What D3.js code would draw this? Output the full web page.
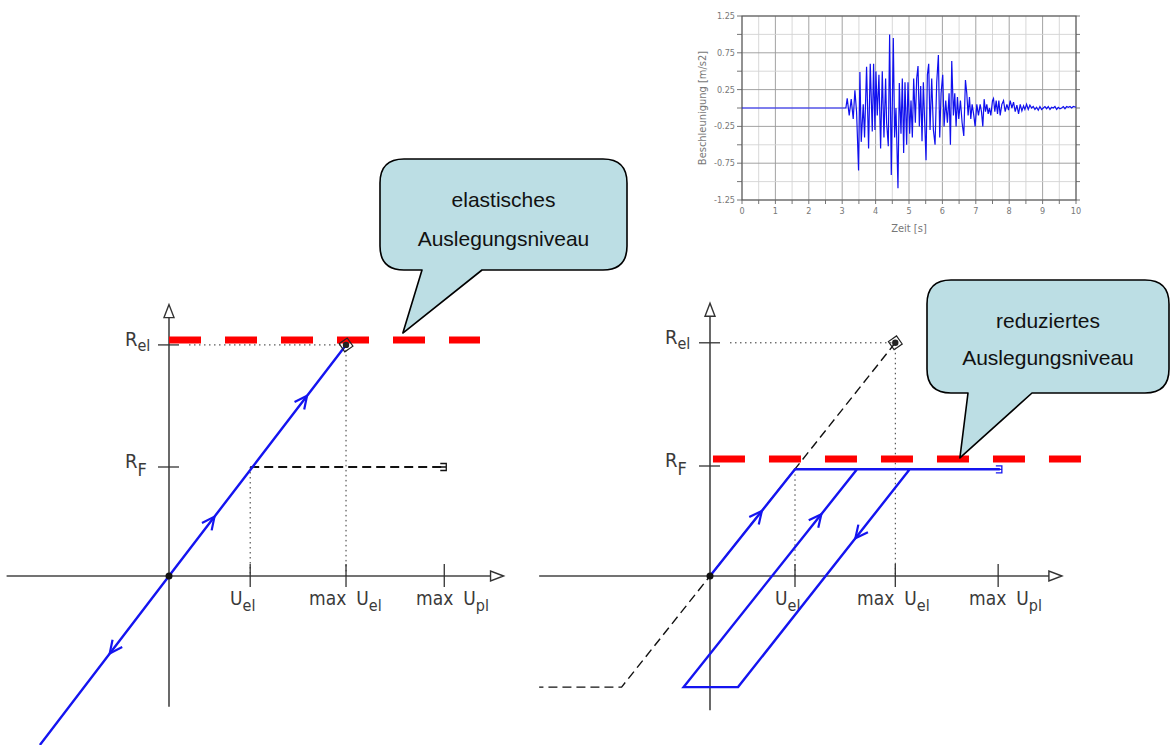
<!DOCTYPE html>
<html lang="de">
<head>
<meta charset="utf-8">
<title>Auslegungsniveau</title>
<style>
    body { margin: 0; background: #fff; }
    .cad { font-family: "DejaVu Sans Condensed", "DejaVu Sans", sans-serif; font-weight: 200; fill: #3a3a3a; }
    .bubble { font-family: "Liberation Sans", Arial, sans-serif; font-size: 21px; fill: #111; text-anchor: middle; }
    .acc { font-family: "DejaVu Sans Condensed", "DejaVu Sans", sans-serif; fill: #777; }
</style>
<script src="https://cdn.jsdelivr.net/npm/d3@7"></script>
</head>
<body>
<div id="chart"></div>
<script>
// tick positions (normalised units: U_el = 1, R_F = 1)
var uTicks = [1, 2.18, 3.39];
var uTickPre = ["", "max", "max"];
var uTickSub = ["el", "el", "pl"];
var rTicks = [1, 2.12];
var rTickSub = ["F", "el"];

// left diagram: purely elastic response
var leftElastic = [[-1.59, -1.55], [0, 0], [2.18, 2.12]];
var leftYield = [[1, 1], [3.39, 1]];
var leftArrows = [[0.56, 1], [1.70, 1], [-0.73, -1]];   // u, direction
var leftRed = { r: 2.165, from: 0, to: 3.83 };

// right diagram: elasto-plastic hysteresis
var rightLoop = [[0, 0], [1, 0.97], [2.35, 0.97], [0.33, -1.01], [-0.31, -1.01], [1.73, 0.97], [3.41, 0.97]];
var rightElastic = [[2.18, 2.12], [0, 0], [-1.04, -1.01], [-2.01, -1.01]];
var rightArrows = [[0, 0.61, 1], [4, 1.31, 1], [2, 1.71, -1]];  // segment, u, direction
var rightRed = { r: 1.064, from: 0.035, to: 4.38 };

// accelerogram
var accelTime = [0, 3.11, 3.15, 3.21, 3.27, 3.33, 3.38, 3.43, 3.49, 3.53, 3.57, 3.63, 3.67, 3.73, 3.79, 3.84, 3.90, 3.94, 3.98,
    4.01, 4.05, 4.10, 4.15, 4.20, 4.25, 4.30, 4.33, 4.38, 4.42, 4.47, 4.53, 4.57, 4.61, 4.67, 4.71, 4.76, 4.80, 4.84, 4.88, 4.93, 4.97,
    5.02, 5.06, 5.10, 5.14, 5.19, 5.23, 5.27, 5.31, 5.35, 5.39, 5.43, 5.47, 5.51, 5.55, 5.59, 5.63, 5.68, 5.73, 5.78, 5.83, 5.88, 5.92, 5.96,
    6.01, 6.05, 6.10, 6.15, 6.20, 6.24, 6.28, 6.33, 6.37, 6.41, 6.45, 6.49, 6.54, 6.59, 6.64, 6.69, 6.73, 6.77, 6.81, 6.85, 6.89, 6.94, 6.98,
    7.03, 7.08, 7.13, 7.17, 7.21, 7.25, 7.29, 7.33, 7.37, 7.41, 7.45, 7.50, 7.53, 7.57, 7.61, 7.65, 7.69, 7.73, 7.78, 7.83, 7.88, 7.93, 7.98,
    8.03, 8.08, 8.13, 8.18, 8.23, 8.28, 8.33, 8.38, 8.43, 8.47, 8.52, 8.57, 8.62, 8.67, 8.72, 8.77, 8.82, 8.87, 8.92, 8.97,
    9.02, 9.07, 9.12, 9.17, 9.22, 9.27, 9.32, 9.37, 9.42, 9.47, 9.52, 9.57, 9.62, 9.67, 9.72, 9.77, 9.82, 9.87, 9.92, 10];
var accelValue = [0, 0, 0.13, -0.1, 0.12, -0.15, 0.24, -0.05, -0.85, 0.49, -0.46, 0.05, -0.4, 0.56, -0.55, 0.6, -0.32, 0.6, -0.3,
    0.5, -0.1, 0.45, -0.55, 0.5, -0.4, 0.4, -0.2, -0.52, 1.0, -0.91, 0.95, -0.4, 0.0, -1.09, 0.34, -0.35, 0.4, -0.61, 0.35, -0.5, 0.35,
    -0.35, 0.1, -0.4, 0.4, -0.2, 0.4, 0.57, -0.25, 0.3, -0.45, 0.35, -0.2, -0.71, 0.45, 0.6, -0.3, 0.4, -0.3, -0.5, 0.35, 0.72, -0.4, 0.2,
    0.45, -0.25, 0.1, -0.2, 0.2, -0.5, 0.64, -0.1, 0.2, -0.25, 0.15, -0.15, 0.1, -0.2, -0.38, 0.38, 0.2, -0.1, 0.15, -0.15, 0.05, -0.1, -0.25,
    0.05, -0.1, 0.05, -0.05, -0.25, 0.12, -0.05, 0.05, -0.08, 0.0, -0.1, 0.1, 0.13, -0.05, 0.1, -0.08, 0.1, -0.1, 0.05, 0.1, -0.05, 0.05, -0.03,
    0.1, 0.0, 0.08, -0.05, 0.04, -0.08, 0.05, -0.04, 0.03, -0.02, 0.05, -0.02, 0.04, 0.0, 0.02, -0.02, 0.01, -0.03, 0.02, -0.02,
    0.0, 0.02, -0.01, 0.02, -0.02, 0.01, 0.0, 0.02, -0.02, 0.01, -0.01, 0.0, 0.02, -0.01, 0.02, 0.01, 0.02, 0.0, 0.02, 0.01];
var accelYTicks = [1.25, 0.75, 0.25, -0.25, -0.75, -1.25];
var accelXTicks = [0, 1, 2, 3, 4, 5, 6, 7, 8, 9, 10];

var svg = d3.select("#chart").append("svg")
    .attr("width", 1171)
    .attr("height", 745);

var blue = "#1414f0";

// ---------- helpers ----------
function label(g, x, y, pre, main, sub, size, subSize, subDy) {
    var t = g.append("text").attr("class", "cad").attr("x", x).attr("y", y)
        .style("font-size", size + "px");
    if (pre) {
        t.append("tspan").text(pre);
        t.append("tspan").attr("dx", 10).text(main);
    } else {
        t.append("tspan").text(main);
    }
    t.append("tspan").attr("dy", subDy).style("font-size", subSize + "px").text(sub);
}

function chevron(g, x0, y0, x1, y1, t, dir, color) {
    // open arrow head on segment (x0,y0)-(x1,y1) at fraction t
    var px = x0 + (x1 - x0) * t, py = y0 + (y1 - y0) * t;
    var a = Math.atan2(y1 - y0, x1 - x0) + (dir < 0 ? Math.PI : 0);
    var len = 14, sp = 0.45;
    var p = d3.path();
    p.moveTo(px - len * Math.cos(a - sp), py - len * Math.sin(a - sp));
    p.lineTo(px, py);
    p.lineTo(px - len * Math.cos(a + sp), py - len * Math.sin(a + sp));
    g.append("path").attr("d", p.toString()).attr("fill", "none")
        .attr("stroke", color).attr("stroke-width", 2.2).attr("stroke-linejoin", "miter");
}

function drawDiagram(x, y, opt) {
    var g = svg.append("g");
    var line = d3.line().x(function(d) { return x(d[0]); }).y(function(d) { return y(d[1]); });

    // dotted guides
    var dot = "1.5,3.5";
    g.append("line").attr("x1", x(0) + 20).attr("x2", x(uTicks[1])).attr("y1", y(rTicks[1])).attr("y2", y(rTicks[1]))
        .attr("stroke", "#333").attr("stroke-width", 1).attr("stroke-dasharray", dot);
    g.append("line").attr("x1", x(uTicks[1])).attr("x2", x(uTicks[1])).attr("y1", y(rTicks[1])).attr("y2", y(0))
        .attr("stroke", "#333").attr("stroke-width", 1).attr("stroke-dasharray", dot);
    g.append("line").attr("x1", x(uTicks[0])).attr("x2", x(uTicks[0])).attr("y1", y(opt.uelTop)).attr("y2", y(0))
        .attr("stroke", "#333").attr("stroke-width", 1).attr("stroke-dasharray", dot);

    // axes
    g.append("line").attr("x1", x(opt.xExt[0])).attr("x2", x(opt.xExt[1]) - 12).attr("y1", y(0)).attr("y2", y(0))
        .attr("stroke", "#444").attr("stroke-width", 1.6);
    g.append("line").attr("x1", x(0)).attr("x2", x(0)).attr("y1", y(opt.yExt[0])).attr("y2", y(opt.yExt[1]) + 12)
        .attr("stroke", "#444").attr("stroke-width", 1.6);
    var ax = x(opt.xExt[1]), ay = y(0);
    g.append("path").attr("d", "M" + ax + "," + ay + "L" + (ax - 13) + "," + (ay - 5) + "L" + (ax - 13) + "," + (ay + 5) + "Z")
        .attr("fill", "#fff").attr("stroke", "#333").attr("stroke-width", 1.4);
    var bx = x(0), by = y(opt.yExt[1]);
    g.append("path").attr("d", "M" + bx + "," + by + "L" + (bx - 5) + "," + (by + 13) + "L" + (bx + 5) + "," + (by + 13) + "Z")
        .attr("fill", "#fff").attr("stroke", "#333").attr("stroke-width", 1.4);

    // ticks
    uTicks.forEach(function(u) {
        g.append("line").attr("x1", x(u)).attr("x2", x(u)).attr("y1", y(0) - 12).attr("y2", y(0) + 11)
            .attr("stroke", "#333").attr("stroke-width", 1.3);
    });
    rTicks.forEach(function(r) {
        g.append("line").attr("x1", x(0) - 11).attr("x2", x(0) + 10).attr("y1", y(r)).attr("y2", y(r))
            .attr("stroke", "#333").attr("stroke-width", 1.3);
    });

    // tick labels
    uTicks.forEach(function(u, i) {
        label(g, opt.uLabelX[i], y(0) + 29, uTickPre[i], "U", uTickSub[i], 19, 16, 6);
    });
    label(g, opt.rLabelX, y(rTicks[1]) + 1, "", "R", rTickSub[1], 20, 16, 5);
    label(g, opt.rLabelX, y(rTicks[0]) + 1, "", "R", rTickSub[0], 20, 18, 8);

    // red design level
    g.append("line").attr("x1", x(opt.red.from)).attr("x2", x(opt.red.to)).attr("y1", y(opt.red.r)).attr("y2", y(opt.red.r))
        .attr("stroke", "#ff0000").attr("stroke-width", 7).attr("stroke-dasharray", "32,24");

    return { g: g, line: line };
}

function endMark(g, cx, cy, color) {
    g.append("path").attr("d", "M" + (cx - 4) + "," + (cy - 3.5) + "h6v7h-6M" + (cx - 4) + "," + cy + "h6")
        .attr("fill", "none").attr("stroke", color).attr("stroke-width", 1.3);
}

function peakMark(g, cx, cy) {
    g.append("path").attr("d", "M" + cx + "," + (cy - 7) + "L" + (cx + 7) + "," + cy + "L" + cx + "," + (cy + 7) + "L" + (cx - 7) + "," + cy + "Z")
        .attr("fill", "none").attr("stroke", "#222").attr("stroke-width", 1.2)
        .attr("transform", "rotate(10," + cx + "," + cy + ")");
    g.append("circle").attr("cx", cx).attr("cy", cy).attr("r", 3.2).attr("fill", "#222");
}

function callout(x0, y0, x1, y1, r, tail0, tail1, tip, lines, textY) {
    var p = d3.path();
    p.moveTo(x0 + r, y0);
    p.lineTo(x1 - r, y0);
    p.quadraticCurveTo(x1, y0, x1, y0 + r);
    p.lineTo(x1, y1 - r);
    p.quadraticCurveTo(x1, y1, x1 - r, y1);
    p.lineTo(tail1, y1);
    p.lineTo(tip[0], tip[1]);
    p.lineTo(tail0, y1);
    p.lineTo(x0 + r, y1);
    p.quadraticCurveTo(x0, y1, x0, y1 - r);
    p.lineTo(x0, y0 + r);
    p.quadraticCurveTo(x0, y0, x0 + r, y0);
    p.closePath();
    svg.append("path").attr("d", p.toString()).attr("fill", "#bcdee4")
        .attr("stroke", "#000").attr("stroke-width", 1.6).attr("stroke-linejoin", "round");
    lines.forEach(function(s, i) {
        svg.append("text").attr("class", "bubble").attr("x", (x0 + x1) / 2).attr("y", textY[i]).text(s);
    });
}

// ---------- left diagram ----------
var xL = d3.scaleLinear().domain([0, 1]).range([169, 250.2]);
var yL = d3.scaleLinear().domain([0, 1]).range([576, 467]);
var L = drawDiagram(xL, yL, {
    xExt: [-2.0, 4.12], yExt: [-1.2, 2.49], uelTop: 1,
    uLabelX: [230, 309, 416], rLabelX: 125, red: leftRed
});
L.g.append("path").datum(leftYield).attr("d", L.line).attr("fill", "none")
    .attr("stroke", "#111").attr("stroke-width", 1.8).attr("stroke-dasharray", "9,5");
endMark(L.g, xL(leftYield[1][0]), yL(leftYield[1][1]), "#111");
L.g.append("path").datum(leftElastic).attr("d", L.line).attr("fill", "none")
    .attr("stroke", blue).attr("stroke-width", 2.4);
var slopeL = leftElastic[2][1] / leftElastic[2][0];
leftArrows.forEach(function(a) {
    var u = a[0];
    chevron(L.g, xL(u - 0.1), yL((u - 0.1) * slopeL), xL(u + 0.1), yL((u + 0.1) * slopeL), 0.5, a[1], blue);
});
peakMark(L.g, xL(leftElastic[2][0]), yL(leftElastic[2][1]));
L.g.append("circle").attr("cx", xL(0)).attr("cy", yL(0)).attr("r", 3.5).attr("fill", "#111");

// ---------- right diagram ----------
var xR = d3.scaleLinear().domain([0, 1]).range([710, 795]);
var yR = d3.scaleLinear().domain([0, 1]).range([576, 466]);
var R = drawDiagram(xR, yR, {
    xExt: [-2.01, 4.14], yExt: [-1.22, 2.48], uelTop: 0.97,
    uLabelX: [775, 857, 969], rLabelX: 665, red: rightRed
});
R.g.append("path").datum(rightElastic).attr("d", R.line).attr("fill", "none")
    .attr("stroke", "#111").attr("stroke-width", 1.4).attr("stroke-dasharray", "9,5");
peakMark(R.g, xR(rightElastic[0][0]), yR(rightElastic[0][1]));
R.g.append("path").datum(rightLoop).attr("d", R.line).attr("fill", "none")
    .attr("stroke", blue).attr("stroke-width", 2.4).attr("stroke-linejoin", "miter");
endMark(R.g, xR(rightLoop[6][0]), yR(rightLoop[6][1]), blue);
rightArrows.forEach(function(a) {
    var p0 = rightLoop[a[0]], p1 = rightLoop[a[0] + 1];
    var t = (a[1] - p0[0]) / (p1[0] - p0[0]);
    chevron(R.g, xR(p0[0]), yR(p0[1]), xR(p1[0]), yR(p1[1]), t, a[2] * (p1[0] > p0[0] ? 1 : -1), blue);
});
R.g.append("circle").attr("cx", xR(0)).attr("cy", yR(0)).attr("r", 3.5).attr("fill", "#111");

// ---------- callouts ----------
callout(380, 159, 627, 270, 24, 422, 482, [xL(2.88), yL(leftRed.r) - 7],
    ["elastisches", "Auslegungsniveau"], [207, 246]);
callout(927, 280, 1169, 393, 24, 968, 1032, [xR(2.94), yR(rightRed.r) - 1],
    ["reduziertes", "Auslegungsniveau"], [328, 365]);

// ---------- accelerogram ----------
var xA = d3.scaleLinear().domain([0, 10]).range([742, 1076]);
var yA = d3.scaleLinear().domain([-1.25, 1.25]).range([200, 16]);
var gA = svg.append("g");

d3.range(0, 10.01, 0.5).forEach(function(t) {
    var major = Math.abs(t - Math.round(t)) < 0.01;
    gA.append("line").attr("x1", xA(t)).attr("x2", xA(t)).attr("y1", yA(1.25)).attr("y2", yA(-1.25))
        .attr("stroke", major ? "#999" : "#d4d4d4").attr("stroke-width", 0.9);
    gA.append("line").attr("x1", xA(t)).attr("x2", xA(t)).attr("y1", yA(-1.25)).attr("y2", yA(-1.25) + 4)
        .attr("stroke", "#666").attr("stroke-width", 0.9);
});
d3.range(-1.25, 1.26, 0.25).forEach(function(v) {
    var lab = accelYTicks.some(function(k) { return Math.abs(k - v) < 0.01; });
    gA.append("line").attr("x1", xA(0)).attr("x2", xA(10)).attr("y1", yA(v)).attr("y2", yA(v))
        .attr("stroke", lab ? "#999" : "#d4d4d4").attr("stroke-width", 0.9);
    gA.append("line").attr("x1", xA(0) - 5).attr("x2", xA(0)).attr("y1", yA(v)).attr("y2", yA(v))
        .attr("stroke", "#666").attr("stroke-width", 0.9);
    gA.append("line").attr("x1", xA(10)).attr("x2", xA(10) + 4).attr("y1", yA(v)).attr("y2", yA(v))
        .attr("stroke", "#666").attr("stroke-width", 0.9);
});
gA.append("rect").attr("x", xA(0)).attr("y", yA(1.25)).attr("width", xA(10) - xA(0)).attr("height", yA(-1.25) - yA(1.25))
    .attr("fill", "none").attr("stroke", "#555").attr("stroke-width", 1);

accelYTicks.forEach(function(v) {
    gA.append("text").attr("class", "acc").attr("x", xA(0) - 7).attr("y", yA(v) + 3)
        .attr("text-anchor", "end").style("font-size", "9px").text(v.toFixed(2));
});
accelXTicks.forEach(function(t) {
    gA.append("text").attr("class", "acc").attr("x", xA(t)).attr("y", yA(-1.25) + 14)
        .attr("text-anchor", "middle").style("font-size", "9px").text(t);
});
gA.append("text").attr("class", "acc").attr("x", (xA(0) + xA(10)) / 2).attr("y", 232)
    .attr("text-anchor", "middle").style("font-size", "11px").text("Zeit [s]");
gA.append("text").attr("class", "acc")
    .attr("transform", "translate(706," + yA(0) + ") rotate(-90)")
    .attr("text-anchor", "middle").style("font-size", "11px").text("Beschleunigung [m/s2]");

var accelData = accelTime.map(function(t, i) { return [t, accelValue[i]]; });
gA.append("path").datum(accelData)
    .attr("d", d3.line().x(function(d) { return xA(d[0]); }).y(function(d) { return yA(d[1]); }))
    .attr("fill", "none").attr("stroke", "#1010ee").attr("stroke-width", 1.2);
</script>
</body>
</html>
